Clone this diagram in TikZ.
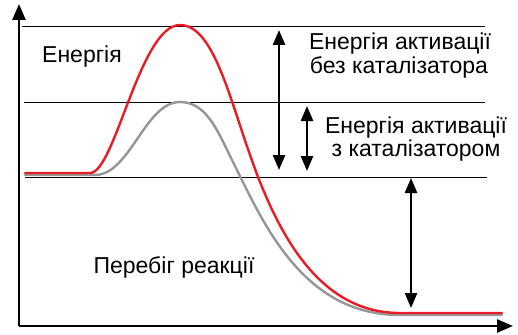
\documentclass[tikz,border=0pt]{standalone}
\usepackage{fontspec}
\setmainfont{Liberation Sans}
\usetikzlibrary{arrows.meta}
\definecolor{cred}{RGB}{232,28,36}
\definecolor{cgray}{RGB}{150,150,150}
\tikzset{
  axis/.style={line width=2.6pt,-{Triangle[length=16pt,width=13pt]}},
  level/.style={line width=0.9pt},
  dbl/.style={line width=2.4pt,{Triangle[length=15pt,width=12pt]}-{Triangle[length=15pt,width=12pt]}},
  lbl/.style={anchor=base,inner sep=0pt,font=\fontsize{23}{27}\selectfont},
  curve/.style={line width=2.4pt,line join=round,line cap=round}
}
\begin{document}
\begin{tikzpicture}[x=1pt,y=-1pt]
\useasboundingbox (0,0) rectangle (518,334);
% level lines
\draw[level] (22,26) -- (485,26);
\draw[level] (24,102) -- (485,102);
\draw[level] (25,177) -- (487,177);
% gray curve
\draw[curve,cgray] (25,175) -- (95,175) .. controls (130,175) and (145,102) .. (180,102)
  .. controls (207,102) and (218,132) .. (233,162)
  .. controls (263,222) and (302,315) .. (400,315) -- (502,315);
% red curve
\draw[curve,cred] (25,173) -- (90,173) .. controls (115,173) and (140,25) .. (180,25)
  .. controls (212,25) and (228,92) .. (249,152)
  .. controls (279,240) and (322,313) .. (400,313) -- (502,313);
% axes
\coordinate (o) at (19,326);
\coordinate (ytop) at (19,4);
\coordinate (xend) at (513,326);
\draw[axis] (o) -- (ytop);
\draw[axis] (o) -- (xend);
% arrows
\coordinate (a1t) at (279,30);
\coordinate (a1b) at (279,170);
\coordinate (a2t) at (307,106);
\coordinate (a2b) at (307,171);
\coordinate (a3t) at (411,178);
\coordinate (a3b) at (411,308);
\draw[dbl] (a1t) -- (a1b);
\draw[dbl] (a2t) -- (a2b);
\draw[dbl] (a3t) -- (a3b);
% labels
\node[lbl,anchor=base west] (en) at (42,62.5) {Енергія};
\node[lbl] (t1a) at (400,50) {Енергія активації};
\node[lbl] (t1b) at (399,73.5) {без каталізатора};
\node[lbl] (t2a) at (416,133) {Енергія активації};
\node[lbl] (t2b) at (416,156) {з каталізатором};
\node[lbl] (pr) at (174,273) {Перебіг реакції};
\end{tikzpicture}
\end{document}
